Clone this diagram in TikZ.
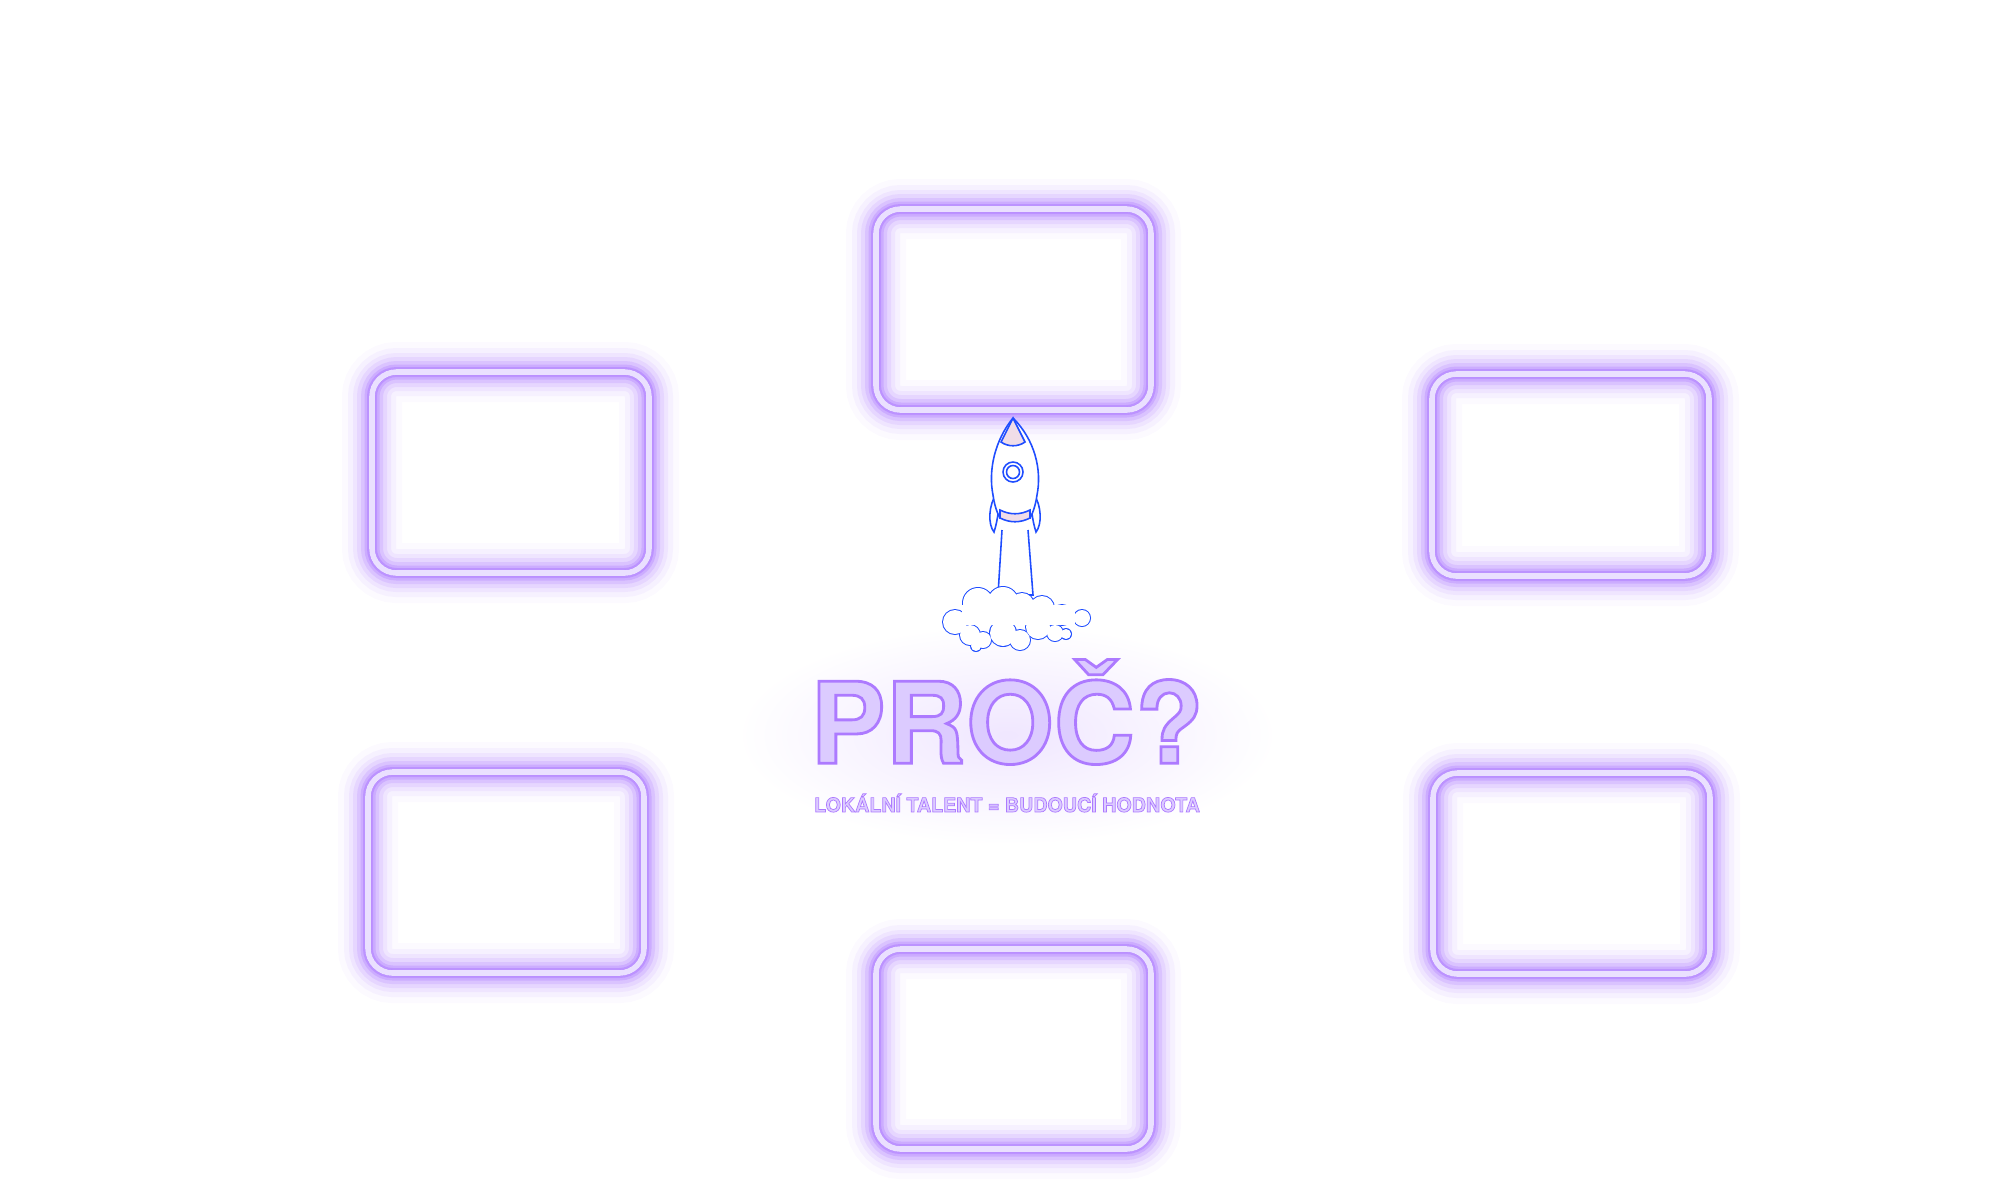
\documentclass[tikz,border=0pt]{standalone}
\usepackage{fontspec}
\setmainfont{TeX Gyre Heros}
\definecolor{neon}{HTML}{9350FF}
\definecolor{lilac}{HTML}{DCCBFF}
\definecolor{rocketblue}{HTML}{1F4DFF}
\definecolor{nosepink}{HTML}{F0DDE8}
\tikzset{
  glow/.style={draw=neon, rounded corners=7pt},
  core/.style={draw=lilac!60!white, line width=1.6pt, rounded corners=7pt},
  rocket/.style={draw=rocketblue, line width=0.45pt, fill=white},
}
% outlined text (fill + purple stroke)
\newcommand{\neontext}[2]{\special{pdf:code q #2 w 0.68 0.48 1 RG 2 Tr}#1\special{pdf:code 0 Tr Q}}
% box given by top-left and bottom-right corner in px (y downwards)
\newcommand{\glowbox}[4]{%
  \foreach \w/\o in {60/0.03,48/0.05,38/0.07,30/0.1,22/0.14,15/0.2,10/0.28,6/0.4,3/0.55}
    \draw[glow, line width=\w*0.2845pt, draw opacity=\o]
      (#1/100,-#2/100) rectangle (#3/100,-#4/100);
  \draw[core] (#1/100,-#2/100) rectangle (#3/100,-#4/100);}
\begin{document}
\begin{tikzpicture}
  \useasboundingbox (0,0) rectangle (20,-12);

  % ~~~~ Boxes ~~~~ %
  \glowbox{876}{209}{1151}{410}
  \glowbox{372}{372}{649}{573}
  \glowbox{1432}{374}{1709}{576}
  \glowbox{368}{772}{644}{973}
  \glowbox{1433}{773}{1710}{974}
  \glowbox{876}{949}{1151}{1149}

  % ~~~~ Title ~~~~ %
  \shade[inner color=neon!14, outer color=white] (10.07,-7.35) ellipse (2.7 and 1.1);
  \node (title) [text=lilac, font=\bfseries\fontsize{32}{32}\selectfont]
    at (10.07,-7.12) {\neontext{PROČ?}{0.8}};
  \node (sub) [text=lilac, font=\bfseries\fontsize{5.6}{5.6}\selectfont]
    at (10.07,-8.03) {\neontext{LOKÁLNÍ TALENT = BUDOUCÍ HODNOTA}{0.2}};

  % ~~~~ Rocket ~~~~ %
  \draw[rocket] (10.02,-5.30) -- (9.98,-5.95) -- (10.33,-5.95) -- (10.28,-5.30);
  \draw[rocket] (9.97,-4.93) .. controls (9.88,-5.05) and (9.88,-5.25) .. (9.94,-5.32)
    .. controls (9.98,-5.20) and (9.99,-5.05) .. (10.00,-4.98) -- cycle;
  \draw[rocket] (10.33,-4.93) .. controls (10.42,-5.05) and (10.42,-5.25) .. (10.36,-5.32)
    .. controls (10.32,-5.20) and (10.31,-5.05) .. (10.30,-4.98) -- cycle;
  \draw[rocket] (10.13,-4.18) .. controls (9.95,-4.40) and (9.88,-4.70) .. (9.93,-4.95)
    .. controls (9.95,-5.10) and (10.00,-5.18) .. (10.00,-5.18)
    -- (10.30,-5.18) .. controls (10.30,-5.18) and (10.35,-5.10) .. (10.37,-4.95)
    .. controls (10.42,-4.70) and (10.35,-4.40) .. (10.13,-4.18);
  \draw[rocket, fill=nosepink] (10.13,-4.18) -- (10.01,-4.42)
    .. controls (10.08,-4.47) and (10.18,-4.47) .. (10.25,-4.42) -- cycle;
  \draw[rocket, fill=nosepink] (10.00,-5.10) .. controls (10.10,-5.15) and (10.20,-5.15) .. (10.30,-5.10)
    -- (10.30,-5.18) .. controls (10.20,-5.23) and (10.10,-5.23) .. (10.00,-5.18) -- cycle;
  \draw[rocket] (10.13,-4.72) circle (0.1);
  \draw[rocket] (10.13,-4.72) circle (0.065);

  % ~~~~ Clouds ~~~~ %
  \foreach \x/\y/\r in {9.55/-6.22/0.12, 9.78/-6.03/0.15, 10.03/-6.02/0.15, 10.22/-6.05/0.12,
      10.42/-6.08/0.12, 10.62/-6.15/0.1, 10.82/-6.18/0.08, 9.70/-6.35/0.1,
      9.83/-6.40/0.08, 10.03/-6.33/0.13, 10.20/-6.40/0.1, 10.38/-6.27/0.12,
      10.55/-6.33/0.08, 10.66/-6.34/0.05, 9.76/-6.46/0.05}
    \fill[rocketblue] (\x,\y) circle (\r+0.01);
  \foreach \x/\y/\r in {9.55/-6.22/0.12, 9.78/-6.03/0.15, 10.03/-6.02/0.15, 10.22/-6.05/0.12,
      10.42/-6.08/0.12, 10.62/-6.15/0.1, 10.82/-6.18/0.08, 9.70/-6.35/0.1,
      9.83/-6.40/0.08, 10.03/-6.33/0.13, 10.20/-6.40/0.1, 10.38/-6.27/0.12,
      10.55/-6.33/0.08, 10.66/-6.34/0.05, 9.76/-6.46/0.05}
    \fill[white] (\x,\y) circle (\r);
  \fill[white] (9.62,-6.05) rectangle (10.75,-6.25);
\end{tikzpicture}
\end{document}
